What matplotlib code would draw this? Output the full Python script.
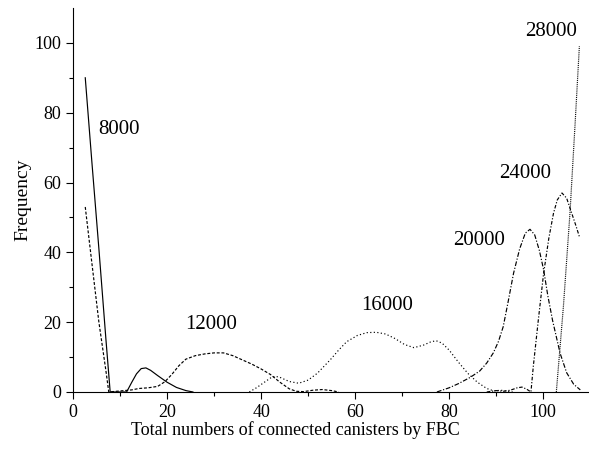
import matplotlib.pyplot as plt

plt.rcParams['font.family'] = ['Liberation Serif', 'DejaVu Serif']

# read-off values for each crowd size
x_8000 = [2.6, 4.0, 5.5, 7.0, 7.9, 11.4, 12.5, 13.5, 14.5, 15.5, 16.5, 18.0, 20.0, 22.0, 24.0, 25.5]
y_8000 = [90, 66, 41, 15, 0, 0, 2.8, 5.2, 6.7, 6.9, 6.2, 4.7, 2.8, 1.3, 0.4, 0]

x_12000 = [2.6, 4.0, 5.5, 7.0, 7.6, 12.5, 14.0, 16.0, 18.0, 19.5, 21.0, 22.5, 24.0, 26.0, 28.0, 30.0,
           32.0, 34.0, 36.0, 38.0, 40.0, 42.0, 44.0, 46.0, 47.5, 49.0, 51.0, 53.0, 55.0, 56.5]
y_12000 = [53, 37, 20, 6, 0, 0.6, 1.0, 1.2, 1.6, 2.9, 5.0, 7.5, 9.4, 10.4, 10.9, 11.2,
           11.2, 10.4, 9.2, 8.0, 6.6, 5.0, 2.8, 0.9, 0.2, 0.1, 0.5, 0.7, 0.4, 0]

x_16000 = [37.5, 39.0, 40.5, 42.0, 43.0, 44.0, 46.0, 48.0, 50.0, 52.0, 54.7, 56.5, 58.2, 60.5, 62.5,
           64.5, 66.5, 68.5, 70.5, 72.5, 74.5, 76.0, 77.2, 78.5, 80.0, 82.0, 84.0, 86.0, 88.0, 89.5,
           91.0, 92.5, 93.5]
y_16000 = [0, 1.2, 2.6, 4.0, 4.5, 4.2, 3.0, 2.5, 3.4, 5.4, 9.2, 12.0, 14.4, 16.2, 17.0,
           17.1, 16.6, 15.3, 13.6, 12.7, 13.4, 14.3, 14.7, 14.0, 12.0, 8.5, 5.3, 2.8, 1.0, 0.3,
           0.5, 0.2, 0]

x_20000 = [77.4, 80.0, 82.0, 84.5, 86.5, 88.0, 89.4, 90.5, 91.5, 92.5, 93.7, 95.0, 96.2, 97.2,
           98.2, 99.2, 100.1, 101.0, 102.0, 103.6, 105.0, 106.5, 107.9]
y_20000 = [0, 1.2, 2.4, 4.2, 6.0, 8.3, 11.2, 14.5, 18.7, 25.5, 34.0, 41.0, 45.5, 46.6,
           45.0, 40.5, 35.0, 27.5, 20.5, 11.1, 5.5, 2.2, 0.6]

x_24000 = [88.0, 90.0, 91.5, 93.0, 94.5, 95.5, 96.5, 97.4, 97.9, 99.0, 100.1, 101.2, 102.2, 103.0,
           104.0, 105.0, 106.0, 107.0, 107.7]
y_24000 = [0, 0.4, 0.2, 0.5, 1.2, 1.4, 0.8, 0, 7.3, 21, 34, 44, 51.2, 55,
           57, 55.5, 51.5, 47.5, 44.5]

x_28000 = [102.8, 104.3, 105.7, 106.8, 107.7]
y_28000 = [0, 24.4, 51.2, 77, 99]

labels = ["8000", "12000", "16000", "20000", "24000", "28000"]
label_x = [9.8, 29.4, 66.9, 86.4, 96.2, 101.7]
label_y = [75.2, 19.3, 24.9, 43.3, 62.7, 103.2]

fig = plt.figure(figsize=(5.89, 4.55), dpi=100)
ax = fig.add_axes([0.124, 0.1385, 0.878, 0.844])

lw = 0.85
ax.plot(x_8000, y_8000, color="black", lw=lw, linestyle="-")
ax.plot(x_12000, y_12000, color="black", lw=lw, linestyle=(0, (2.5, 1.5)))
ax.plot(x_16000, y_16000, color="black", lw=lw, linestyle=(0, (1, 2)))
ax.plot(x_20000, y_20000, color="black", lw=lw, linestyle=(0, (4, 1.5, 1, 1.5)))
ax.plot(x_24000, y_24000, color="black", lw=lw, linestyle=(0, (3, 1.5, 1, 1.5)))
ax.plot(x_28000, y_28000, color="black", lw=lw, linestyle=(0, (0.8, 0.8)))

for t, tx, ty in zip(labels, label_x, label_y):
    ax.text(tx, ty, t, fontsize=15, ha="center", va="center")

ax.set_xlim(0, 110)
ax.set_ylim(0, 110)
ax.set_xticks([0, 20, 40, 60, 80, 100])
ax.set_yticks([0, 20, 40, 60, 80, 100])
ax.set_xticks(range(10, 110, 20), minor=True)
ax.set_yticks(range(10, 110, 20), minor=True)
ax.tick_params(which="major", direction="out", length=5, width=0.8, labelsize=13)
ax.tick_params(which="minor", direction="out", length=3, width=0.8)
ax.spines["top"].set_visible(False)
ax.spines["right"].set_visible(False)
ax.set_xlabel("Total numbers of connected canisters by FBC", fontsize=13)
ax.xaxis.set_label_coords(0.429, -0.075)
ax.set_ylabel("Frequency", fontsize=14, labelpad=2)

fig.savefig("out.png", dpi=100)
